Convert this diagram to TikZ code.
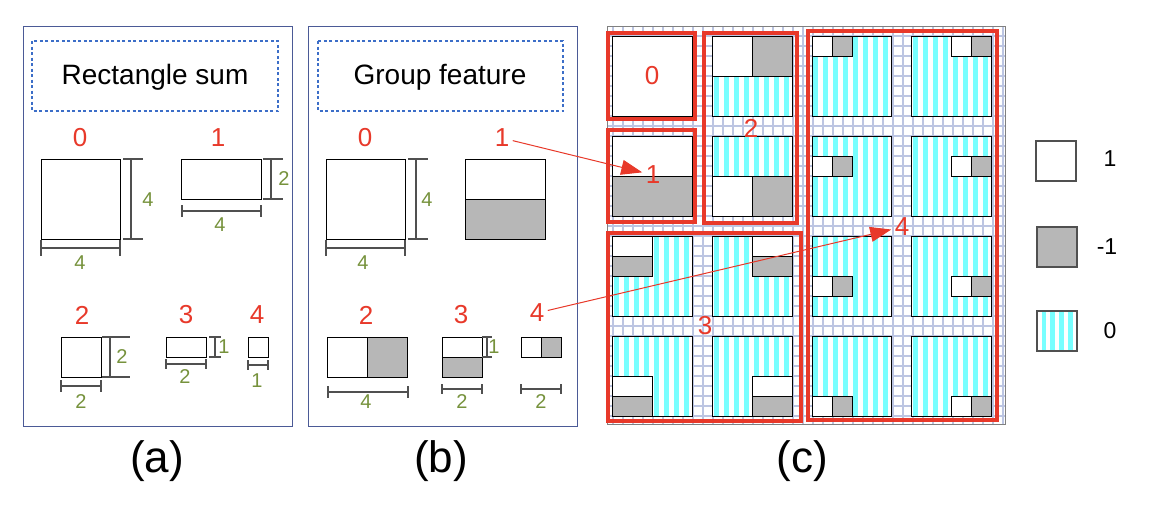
\documentclass[tikz,border=0pt]{standalone}
\usepackage{fontspec}
\setmainfont{Liberation Sans}
\usetikzlibrary{arrows.meta}
\definecolor{redc}{RGB}{232,57,42}
\definecolor{greenc}{RGB}{118,146,60}
\definecolor{panelc}{RGB}{75,90,150}
\definecolor{dashc}{RGB}{60,110,200}
\definecolor{grayc}{RGB}{183,183,183}
\definecolor{cyanc}{RGB}{120,255,255}
\definecolor{gridc}{RGB}{188,197,226}
\definecolor{dimc}{RGB}{80,80,80}
\tikzset{
  panel/.style={draw=panelc, line width=1pt},
  dashbox/.style={draw=dashc, line width=2.2pt, dash pattern=on 3pt off 2.5pt},
  titletext/.style={font=\fontsize{28}{34}\selectfont, text=black},
  redlab/.style={text=redc, font=\fontsize{26}{31}\selectfont},
  greenlab/.style={text=greenc, font=\fontsize{20}{24}\selectfont},
  leglab/.style={text=black, font=\fontsize{23}{28}\selectfont},
  panellab/.style={text=black, font=\fontsize{44}{52}\selectfont},
  sqline/.style={draw=black, line width=1pt},
  dimline/.style={draw=dimc, line width=1.2pt},
  gridline/.style={draw=gridc, line width=2.5pt},
  redbox/.style={draw=redc, line width=4pt},
  redarrow/.style={draw=redc, line width=1pt, -{Triangle[length=21pt,width=15pt]}},
}
\newcommand{\mydimv}[5]{% x, y1, y2, tick left, tick right
  \draw[dimline] (#1,#2) -- (#1,#3);
  \draw[dimline] (#4,#2) -- (#5,#2);
  \draw[dimline] (#4,#3) -- (#5,#3);}
\newcommand{\mydimh}[5]{% y, x1, x2, tick top, tick bottom
  \draw[dimline] (#2,#1) -- (#3,#1);
  \draw[dimline] (#2,#4) -- (#2,#5);
  \draw[dimline] (#3,#4) -- (#3,#5);}
\newcommand{\mystripes}[4]{% x0,y0,w,h
  \fill[white] (#1,#2) rectangle ++(#3,#4);
  \foreach \k in {0,...,7} {\fill[cyanc] ({#1+1+10*\k},#2) rectangle ++(5,#4);}}
\newcommand{\myblk}[5]{% x,y,w,h,colour
  \filldraw[fill=#5, sqline] (#1,#2) rectangle ++(#3,#4);}
\begin{document}
\begin{tikzpicture}[x=1pt,y=-1pt]
\useasboundingbox[fill=white] (0,0) rectangle (1149,504);

% ---------------- panel (a)
\draw[panel] (23,26) rectangle (292,426);
\draw[dashbox] (32,41) rectangle (278,111);
\node[titletext] (ta) at (155,77) {Rectangle sum};
\node[redlab] (a0) at (80,138) {0};
\node[redlab] (a1) at (218,138) {1};
\node[redlab] (a2) at (82,315) {2};
\node[redlab] (a3) at (186,315) {3};
\node[redlab] (a4) at (257,315) {4};
\draw[sqline] (41,159) rectangle (120,239);
\draw[sqline] (181,159) rectangle (261,199);
\draw[sqline] (61,337) rectangle (101,377);
\draw[sqline] (166,337) rectangle (206,357);
\draw[sqline] (248,337) rectangle (268,357);
\mydimv{131}{159}{239}{123}{143}
\mydimh{248}{41}{120}{240}{256}
\mydimv{271}{159}{199}{263}{283}
\mydimh{211}{182}{261}{205}{217}
\mydimv{110}{337}{377}{102}{130}
\mydimh{386}{61}{101}{380}{392}
\mydimv{215}{337}{357}{209}{221}
\mydimh{364}{166}{206}{359}{369}
\mydimh{365}{248}{268}{360}{370}
\node[greenlab] (ga0v) at (148,200) {4};
\node[greenlab] (ga0h) at (80,263) {4};
\node[greenlab] (ga1v) at (284,179) {2};
\node[greenlab] (ga1h) at (220,225) {4};
\node[greenlab] (ga2v) at (122,357) {2};
\node[greenlab] (ga2h) at (81,402) {2};
\node[greenlab] (ga3v) at (224,347) {1};
\node[greenlab] (ga3h) at (185,377) {2};
\node[greenlab] (ga4h) at (257,381) {1};
\node[panellab] (pa) at (157,461) {(a)};

% ---------------- panel (b)
\draw[panel] (308,26) rectangle (577,426);
\draw[dashbox] (318,41) rectangle (563,111);
\node[titletext] (tb) at (440,77) {Group feature};
\node[redlab] (b0) at (365,138) {0};
\node[redlab] (b1) at (502,138) {1};
\node[redlab] (b2) at (366,315) {2};
\node[redlab] (b3) at (461,315) {3};
\node[redlab] (b4) at (537,313) {4};
\draw[sqline] (326,159) rectangle (405,239);
\myblk{465}{159}{80}{40}{white}
\myblk{465}{199}{80}{40}{grayc}
\myblk{327}{337}{40}{40}{white}
\myblk{367}{337}{40}{40}{grayc}
\myblk{442}{337}{40}{20}{white}
\myblk{442}{357}{40}{20}{grayc}
\myblk{521}{337}{20}{20}{white}
\myblk{541}{337}{20}{20}{grayc}
\mydimv{416}{159}{239}{408}{428}
\mydimh{248}{326}{405}{240}{256}
\mydimh{392}{328}{408}{386}{398}
\mydimv{487}{337}{357}{482}{492}
\mydimh{389}{442}{482}{384}{394}
\mydimh{389}{521}{561}{384}{394}
\node[greenlab] (gb0v) at (427,200) {4};
\node[greenlab] (gb0h) at (363,263) {4};
\node[greenlab] (gb2h) at (366,402) {4};
\node[greenlab] (gb3v) at (494,347) {1};
\node[greenlab] (gb3h) at (462,402) {2};
\node[greenlab] (gb4h) at (541,402) {2};
\node[panellab] (pb) at (441,461) {(b)};

% ---------------- panel (c)
\begin{scope}
\clip (607,26) rectangle (1005,424);
\foreach \k in {0,...,40} {\draw[gridline] ({603+10*\k},20) -- ++(0,410);}
\foreach \k in {0,...,40} {\draw[gridline] (600,{26+10*\k}) -- ++(410,0);}
\end{scope}
\draw[draw=gray, line width=0.8pt] (607,26) rectangle (1005,424);

% cell 0
\myblk{612.5}{36}{79.5}{80}{white}
% cell 1
\myblk{612.5}{136}{79.5}{40}{white}
\myblk{612.5}{176}{79.5}{40}{grayc}
% cell 2
\mystripes{712.5}{76}{79.5}{40}
\myblk{712.5}{36}{40}{40}{white}
\myblk{752.5}{36}{39.5}{40}{grayc}
\draw[sqline] (712.5,36) rectangle ++(79.5,80);
\mystripes{712.5}{136}{79.5}{40}
\myblk{712.5}{176}{40}{40}{white}
\myblk{752.5}{176}{39.5}{40}{grayc}
\draw[sqline] (712.5,136) rectangle ++(79.5,80);
% cell 3
\mystripes{612.5}{236}{79.5}{80}
\myblk{612.5}{236}{40}{20}{white}
\myblk{612.5}{256}{40}{20}{grayc}
\draw[sqline] (612.5,236) rectangle ++(79.5,80);
\mystripes{712.5}{236}{79.5}{80}
\myblk{752}{236}{40}{20}{white}
\myblk{752}{256}{40}{20}{grayc}
\draw[sqline] (712.5,236) rectangle ++(79.5,80);
\mystripes{612.5}{336}{79.5}{80}
\myblk{612.5}{376}{40}{20}{white}
\myblk{612.5}{396}{40}{20}{grayc}
\draw[sqline] (612.5,336) rectangle ++(79.5,80);
\mystripes{712.5}{336}{79.5}{80}
\myblk{752}{376}{40}{20}{white}
\myblk{752}{396}{40}{20}{grayc}
\draw[sqline] (712.5,336) rectangle ++(79.5,80);
% cell 4
\foreach \j in {0,...,3} {
  \pgfmathsetmacro\myY{36+100*\j}
  \pgfmathsetmacro\myB{36+120*\j}
  \mystripes{812}{\myY}{79.5}{80}
  \myblk{812}{\myB}{20}{20}{white}
  \myblk{832}{\myB}{20}{20}{grayc}
  \draw[sqline] (812,\myY) rectangle ++(79.5,80);
  \mystripes{911.5}{\myY}{79.5}{80}
  \myblk{951}{\myB}{20}{20}{white}
  \myblk{971}{\myB}{20}{20}{grayc}
  \draw[sqline] (911.5,\myY) rectangle ++(79.5,80);
}
% red group borders
\draw[redbox] (608,33) rectangle (695,119);
\draw[redbox] (608,130) rectangle (695,222);
\draw[redbox] (704,33) rectangle (797,223);
\draw[redbox] (608,233) rectangle (801,421);
\draw[redbox] (808,31) rectangle (997,420);
\node[redlab] (c0) at (652,76) {0};
\node[redlab] (c1) at (653,175) {1};
\node[redlab] (c2) at (751,128) {2};
\node[redlab] (c3) at (705,326) {3};
\node[redlab] (c4) at (902,227) {4};
\node[panellab] (pc) at (802,461) {(c)};

% legend
\filldraw[fill=white, draw=dimc, line width=1.2pt] (1036,141) rectangle (1076,181);
\filldraw[fill=grayc, draw=dimc, line width=1.2pt] (1037,227) rectangle (1077,267);
\fill[white] (1037,311) rectangle (1077,351);
\foreach \k in {0,...,3} {\fill[cyanc] ({1041.5+8.9*\k},311) rectangle ++(4.5,40);}
\draw[draw=dimc, line width=1.2pt] (1037,311) rectangle (1077,351);
\node[leglab] (l1) at (1110,159) {1};
\node[leglab] (l2) at (1107,247) {-1};
\node[leglab] (l3) at (1110,331) {0};

% arrows
\draw[redarrow] (b1) -- (c1);
\draw[redarrow] (b4) -- (c4);
\end{tikzpicture}
\end{document}
